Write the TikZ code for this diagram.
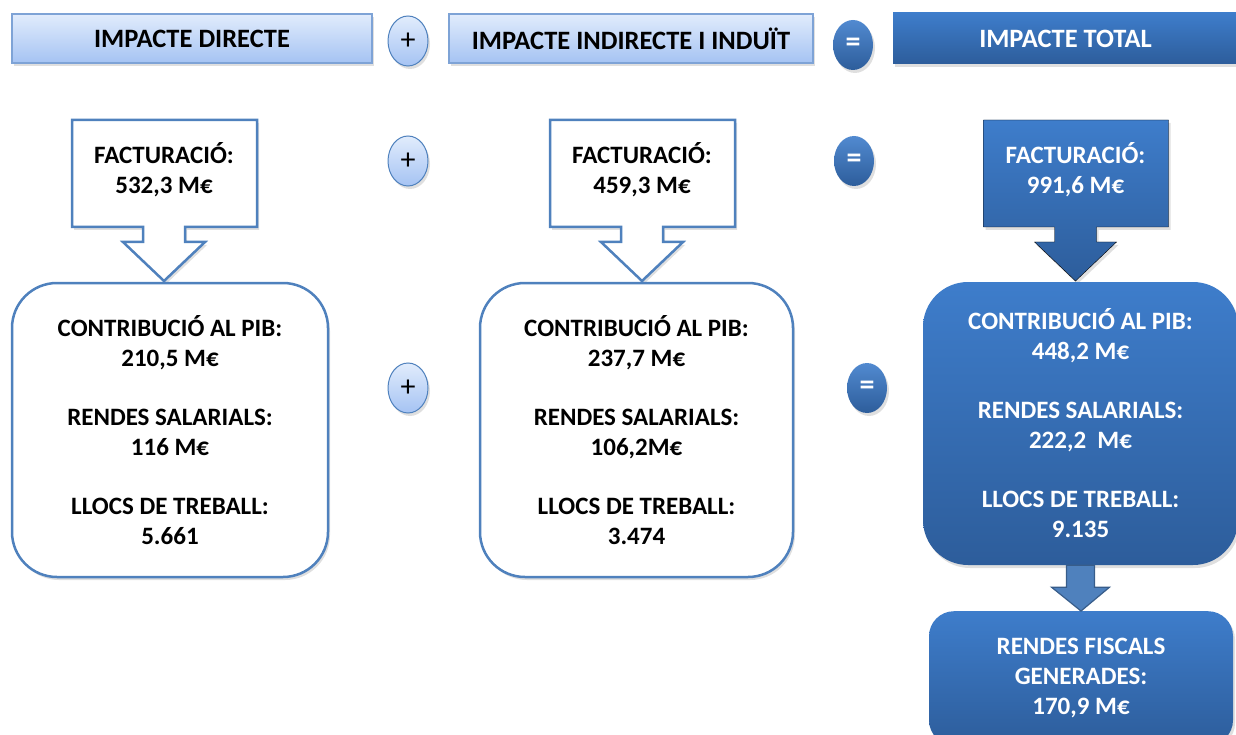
\documentclass[tikz,border=0pt]{standalone}
\usepackage{fontspec}
\setmainfont{Carlito}
\usetikzlibrary{shapes.geometric,shadows}

\definecolor{lineblue}{HTML}{4F81BD}
\definecolor{edgeblue}{HTML}{7EA3D6}
\definecolor{paleblue}{HTML}{E1ECFC}
\definecolor{lightblue}{HTML}{A5C3F3}
\definecolor{topblue}{HTML}{3E7DCB}
\definecolor{darkblue}{HTML}{2D5D9B}
\definecolor{deepblue}{HTML}{385D8A}

% down arrow callout: #1 = centre x, #2 = style
\newcommand{\arrowcallout}[2]{%
  \draw[#2] (#1-92,120) -- (#1+93,120) -- (#1+93,227) -- (#1+21,227) -- (#1+21,242)
    -- (#1+41,242) -- (#1,281) -- (#1-41,242) -- (#1-21,242) -- (#1-21,227)
    -- (#1-92,227) -- cycle;}

\begin{document}
\begin{tikzpicture}[x=1pt,y=-1pt]
  \tikzstyle{txt}=[font=\bfseries\fontsize{25}{30}\selectfont, align=center]
  \tikzstyle{shade}=[drop shadow={opacity=0.25, shadow xshift=2pt, shadow yshift=-3pt}]
  \tikzstyle{headlight}=[txt, font=\bfseries\fontsize{26.5}{30}\selectfont, shade,
    draw=edgeblue, line width=1.2pt, top color=paleblue, bottom color=lightblue,
    minimum height=49pt]
  \tikzstyle{headdark}=[txt, font=\bfseries\fontsize{26.5}{30}\selectfont, shade,
    text=white, draw=none, top color=topblue, bottom color=darkblue, minimum height=51pt]
  \tikzstyle{oplight}=[ellipse, shade, draw=lineblue, line width=1pt, top color=paleblue,
    bottom color=lightblue, minimum width=40pt, minimum height=50pt, inner sep=0pt,
    font=\fontsize{30}{30}\selectfont]
  \tikzstyle{opdark}=[ellipse, shade, draw=none, top color=topblue!90!white,
    bottom color=darkblue, text=white, minimum width=40pt, minimum height=50pt,
    inner sep=0pt, font=\bfseries\fontsize{30}{30}\selectfont]
  \tikzstyle{boxlight}=[txt, shade, draw=lineblue, line width=2.5pt, fill=white,
    rounded corners=45pt, minimum height=294pt]
  \tikzstyle{boxdark}=[txt, shade, text=white, draw=none, top color=topblue,
    bottom color=darkblue, rounded corners=45pt]
  \tikzstyle{calllight}=[shade, draw=lineblue, line width=2.5pt, fill=white]
  \tikzstyle{calldark}=[shade, top color=topblue, bottom color=darkblue]

  \useasboundingbox (0,0) rectangle (1236,735);

  % headings
  \node[headlight, minimum width=360pt] (hdir) at (192,38.5) {IMPACTE DIRECTE};
  \node[headlight, minimum width=364pt] (hind) at (631,38.5) {IMPACTE INDIRECTE I INDUÏT};
  \node[headdark, minimum width=345pt]  (htot) at (1065.5,38.5) {IMPACTE TOTAL};
  \node[oplight] (plusa) at (408,41) {+};
  \node[opdark]  (eqa)   at (853,45) {=};

  % facturacio
  \arrowcallout{164}{calllight}
  \arrowcallout{642}{calllight}
  \arrowcallout{1075.5}{calldark}
  \node[txt] (fdir) at (164,170) {FACTURACIÓ:\\532,3 M€};
  \node[txt] (find) at (642,170) {FACTURACIÓ:\\459,3 M€};
  \node[txt, text=white] (ftot) at (1075.5,170) {FACTURACIÓ:\\991,6 M€};
  \node[oplight] (plusb) at (408,161) {+};
  \node[opdark]  (eqb)   at (854,161) {=};

  % results
  \node[boxlight, minimum width=316pt] (rdir) at (170,430)
    {CONTRIBUCIÓ AL PIB:\\210,5 M€\\[29pt]RENDES SALARIALS:\\116 M€\\[29pt]LLOCS DE TREBALL:\\5.661};
  \node[boxlight, minimum width=313pt] (rind) at (636.5,430)
    {CONTRIBUCIÓ AL PIB:\\237,7 M€\\[29pt]RENDES SALARIALS:\\106,2M€\\[29pt]LLOCS DE TREBALL:\\3.474};
  \node[boxdark, minimum width=315pt, minimum height=283pt] (rtot) at (1080.5,423.5)
    {CONTRIBUCIÓ AL PIB:\\448,2 M€\\[29pt]RENDES SALARIALS:\\222,2~~M€\\[29pt]LLOCS DE TREBALL:\\9.135};
  \node[oplight] (plusc) at (408,388) {+};
  \node[opdark]  (eqc)   at (867,388) {=};

  % fiscal
  \node[boxdark, rounded corners=25pt, minimum width=304pt, minimum height=134pt,
    anchor=north] (fisc) at (1081,611) {RENDES FISCALS\\GENERADES:\\170,9 M€};
  \draw[fill=lineblue, draw=deepblue, line width=1.2pt]
    ([xshift=-14pt]rtot.south) -- ++(0,22) -- ++(-15,0) -- (fisc.north)
    -- ([xshift=29pt,yshift=-22pt]rtot.south) -- ++(-15,0) -- ([xshift=14pt]rtot.south) -- cycle;
\end{tikzpicture}
\end{document}
